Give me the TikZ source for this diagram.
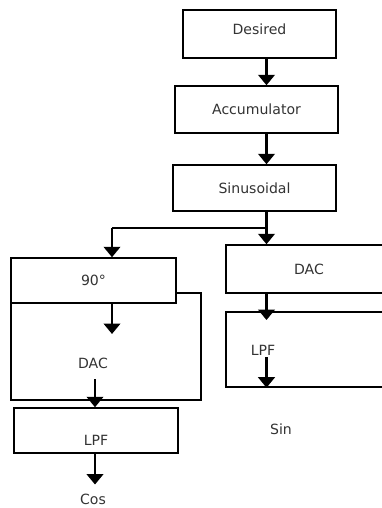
\documentclass[tikz,border=0pt]{standalone}
\usepackage{fontspec}
\setmainfont{DejaVu Sans}
\usetikzlibrary{arrows.meta}
\tikzset{>=stealth}
\tikzset{
  block/.style={draw, line width=0.85pt, fill=white, text=black!80,
    font=\fontsize{8}{9.6}\selectfont},
  txt/.style={text=black!80, font=\fontsize{8}{9.6}\selectfont, inner sep=1pt},
  flow/.style={-{Triangle[width=3.3mm,length=2.1mm]}, line width=1.7pt},
}

\begin{document}
\begin{tikzpicture}[x=0.02cm, y=-0.02cm]
      \useasboundingbox (0,0) rectangle (382,508);
      \clip (0,0) rectangle (382,508);
      \coordinate (spine) at (266.5,0);
      \coordinate (lspine) at (112,0);
      \coordinate (lspinelow) at (95,0);
      % main chain
      \node[block, minimum width=3.06cm, minimum height=0.96cm,
        label={[txt, yshift=2.8pt]center:Desired}] (desired) at (259.5,34) {};
      \node[block, minimum width=3.26cm, minimum height=0.94cm] (accum) at (256.5,109.5) {Accumulator};
      \node[block, minimum width=3.26cm, minimum height=0.92cm] (sinus) at (254.5,188) {Sinusoidal};
      % cos branch
      \node[block, minimum width=3.8cm, minimum height=2.14cm] (outer) at (106,346.5) {};
      \node[block, minimum width=3.3cm, minimum height=0.9cm] (ninety) at (93.5,280.5) {90°};
      \node[txt] (dacl) at (93,363) {DAC};
      \node[block, minimum width=3.28cm, minimum height=0.9cm,
        label={[txt, yshift=-5.7pt]center:LPF}] (lpfl) at (96,430.5) {};
      \node[txt] (cos) at (93,499) {Cos};
      % sin branch
      \node[block, minimum width=3.32cm, minimum height=0.96cm] (dacr) at (309,269) {DAC};
      \node[block, minimum width=3.32cm, minimum height=1.5cm] (lpfr) at (309,349.5) {};
      \node[txt] (lpftext) at (263,350) {LPF};
      \node[txt] (sin) at (281,429) {Sin};
      % connectors
      \path (spine) ++(0,228) coordinate (fork);
      \path (lspine) ++(0,334) coordinate (dacin);
      \draw[flow] (desired.south -| spine) -- (accum.north -| spine);
      \draw[flow] (accum.south -| spine) -- (sinus.north -| spine);
      \draw[flow] (sinus.south -| spine) -- (dacr.north -| spine);
      \draw[line width=0.9pt] (fork) -- (fork -| lspine);
      \draw[flow] (fork -| lspine) -- (ninety.north -| lspine);
      \draw[flow] (ninety.south -| lspine) -- (dacin);
      \draw[flow, shorten <=5pt] (dacl.south -| lspinelow) -- (lpfl.north -| lspinelow);
      \draw[flow, shorten >=4pt] (lpfl.south -| lspinelow) -- (cos.north -| lspinelow);
      \draw[flow, shorten >=-5pt] (dacr.south -| spine) -- (lpfr.north -| spine);
      \draw[flow] (lpftext.south -| spine) -- (lpfr.south -| spine);
\end{tikzpicture}
\end{document}
